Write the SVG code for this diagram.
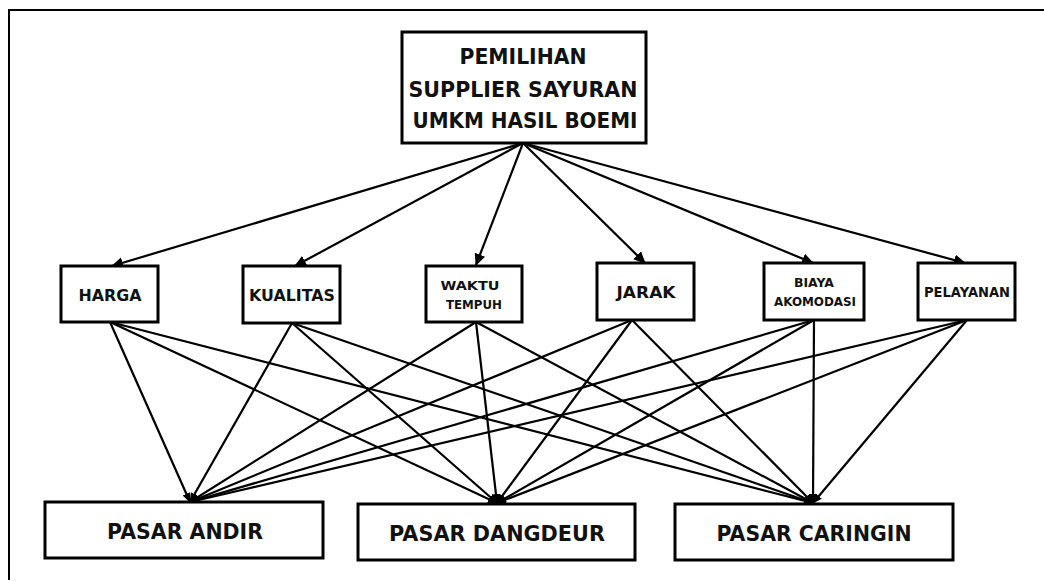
<svg xmlns="http://www.w3.org/2000/svg" width="1044" height="581" viewBox="0 0 1044 581">
<style>
.box{fill:#fff;stroke:#000;stroke-width:3}
.t{font-family:"DejaVu Sans","Liberation Sans",sans-serif;font-weight:700;fill:#111;text-anchor:middle}
.c line{stroke:#000;stroke-width:2.2}
.frame{stroke:#000;stroke-width:2;fill:none}
</style>
<defs>
<marker id="ah" markerUnits="userSpaceOnUse" markerWidth="12" markerHeight="12" viewBox="0 0 12 12" refX="11" refY="6" orient="auto">
<path d="M0,0.5 L12,6 L0,11.5 Z" fill="#000"/>
</marker>
<marker id="ad" markerUnits="userSpaceOnUse" markerWidth="10" markerHeight="10" viewBox="0 0 10 10" refX="9" refY="5" orient="auto">
<path d="M0,1 L10,5 L0,9 Z" fill="#000"/>
</marker>
</defs>
<rect width="1044" height="581" fill="#fff"/>
<path class="frame" d="M9,580 L9,10 L1044,10"/>

<g class="c" id="connectors">
<line x1="523" y1="143" x2="112" y2="266" marker-end="url(#ah)"/>
<line x1="523" y1="143" x2="295" y2="266" marker-end="url(#ah)"/>
<line x1="523" y1="143" x2="476" y2="265" marker-end="url(#ah)"/>
<line x1="523" y1="143" x2="645" y2="263" marker-end="url(#ah)"/>
<line x1="523" y1="143" x2="813" y2="263" marker-end="url(#ah)"/>
<line x1="523" y1="143" x2="965" y2="263" marker-end="url(#ah)"/>

<line x1="110" y1="322" x2="190" y2="502" marker-end="url(#ad)"/>
<line x1="110" y1="322" x2="497" y2="503" marker-end="url(#ad)"/>
<line x1="110" y1="322" x2="813" y2="503" marker-end="url(#ad)"/>
<line x1="292" y1="323" x2="190" y2="502" marker-end="url(#ad)"/>
<line x1="292" y1="323" x2="497" y2="503" marker-end="url(#ad)"/>
<line x1="292" y1="323" x2="813" y2="503" marker-end="url(#ad)"/>
<line x1="476" y1="322" x2="190" y2="502" marker-end="url(#ad)"/>
<line x1="476" y1="322" x2="497" y2="503" marker-end="url(#ad)"/>
<line x1="476" y1="322" x2="813" y2="503" marker-end="url(#ad)"/>
<line x1="632" y1="320" x2="190" y2="502" marker-end="url(#ad)"/>
<line x1="632" y1="320" x2="497" y2="503" marker-end="url(#ad)"/>
<line x1="632" y1="320" x2="813" y2="503" marker-end="url(#ad)"/>
<line x1="814" y1="320" x2="190" y2="502" marker-end="url(#ad)"/>
<line x1="814" y1="320" x2="497" y2="503" marker-end="url(#ad)"/>
<line x1="814" y1="320" x2="813" y2="503" marker-end="url(#ad)"/>
<line x1="967" y1="320" x2="190" y2="502" marker-end="url(#ad)"/>
<line x1="967" y1="320" x2="497" y2="503" marker-end="url(#ad)"/>
<line x1="967" y1="320" x2="813" y2="503" marker-end="url(#ad)"/>
</g>

<g id="goal">
<rect class="box" x="402" y="32" width="244" height="111"/>
<text class="t" x="523" y="64" font-size="22" textLength="127" lengthAdjust="spacingAndGlyphs">PEMILIHAN</text>
<text class="t" x="523" y="97" font-size="22" textLength="229" lengthAdjust="spacingAndGlyphs">SUPPLIER SAYURAN</text>
<text class="t" x="525" y="128" font-size="22" textLength="225" lengthAdjust="spacingAndGlyphs">UMKM HASIL BOEMI</text>
</g>

<g id="harga">
<rect class="box" x="61" y="266" width="97" height="56"/>
<text class="t" x="110" y="301" font-size="16" textLength="63" lengthAdjust="spacingAndGlyphs">HARGA</text>
</g>
<g id="kualitas">
<rect class="box" x="243" y="266" width="97" height="57"/>
<text class="t" x="292" y="301" font-size="16" textLength="86" lengthAdjust="spacingAndGlyphs">KUALITAS</text>
</g>
<g id="waktu">
<rect class="box" x="426" y="266" width="96" height="56"/>
<text class="t" x="470" y="290" font-size="11.5" textLength="59" lengthAdjust="spacingAndGlyphs">WAKTU</text>
<text class="t" x="474" y="309" font-size="11.5" textLength="56" lengthAdjust="spacingAndGlyphs">TEMPUH</text>
</g>
<g id="jarak">
<rect class="box" x="597" y="263" width="97" height="57"/>
<text class="t" x="646" y="298" font-size="16" textLength="59" lengthAdjust="spacingAndGlyphs">JARAK</text>
</g>
<g id="biaya">
<rect class="box" x="764" y="263" width="100" height="57"/>
<text class="t" x="814" y="287" font-size="12" textLength="40" lengthAdjust="spacingAndGlyphs">BIAYA</text>
<text class="t" x="815" y="306" font-size="12" textLength="82" lengthAdjust="spacingAndGlyphs">AKOMODASI</text>
</g>
<g id="pelayanan">
<rect class="box" x="918" y="263" width="97" height="57"/>
<text class="t" x="967" y="297" font-size="14" textLength="86" lengthAdjust="spacingAndGlyphs">PELAYANAN</text>
</g>

<g id="andir">
<rect class="box" x="45" y="502" width="278" height="56"/>
<text class="t" x="185" y="539" font-size="22" textLength="156" lengthAdjust="spacingAndGlyphs">PASAR ANDIR</text>
</g>
<g id="dangdeur">
<rect class="box" x="358" y="504" width="277" height="56"/>
<text class="t" x="497" y="541" font-size="22" textLength="216" lengthAdjust="spacingAndGlyphs">PASAR DANGDEUR</text>
</g>
<g id="caringin">
<rect class="box" x="675" y="504" width="278" height="56"/>
<text class="t" x="814" y="541" font-size="22" textLength="195" lengthAdjust="spacingAndGlyphs">PASAR CARINGIN</text>
</g>
</svg>
